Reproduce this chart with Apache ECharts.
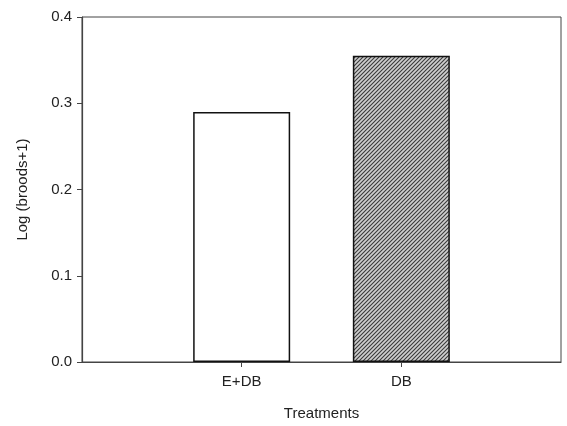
<!DOCTYPE html>
<html>
<head>
<meta charset="utf-8">
<script src="https://cdn.jsdelivr.net/npm/echarts@6/dist/echarts.min.js"></script>
<style>html,body{margin:0;padding:0;background:#fff;}#c{width:567px;height:426px;}</style>
</head>
<body>
<div id="c"></div>
<script>
var categories = ['', 'E+DB', 'DB', ''];
var values = ['-', 0.29, 0.355, '-'];
var yTicks = [0, 0.1, 0.2, 0.3, 0.4];

var pc = document.createElement('canvas');
pc.width = 4; pc.height = 4;
var g = pc.getContext('2d');
g.fillStyle = '#cfcfcf';
g.fillRect(0, 0, 4, 4);
g.strokeStyle = '#3a3a3a';
g.lineWidth = 1.1;
g.beginPath();
g.moveTo(-1, 5); g.lineTo(5, -1);
g.moveTo(-1, 1); g.lineTo(1, -1);
g.moveTo(3, 5); g.lineTo(5, 3);
g.stroke();

var chart = echarts.init(document.getElementById('c'));
var font = 'Liberation Sans, Arial, sans-serif';
chart.setOption({
  animation: false,
  grid: { left: 82, right: 6, top: 17, bottom: 63, show: true, borderColor: '#444', borderWidth: 1, backgroundColor: 'transparent' },
  xAxis: {
    type: 'category',
    data: categories,
    boundaryGap: false,
    name: 'Treatments',
    nameLocation: 'middle',
    nameGap: 44,
    nameTextStyle: { fontFamily: font, fontSize: 15, color: '#222' },
    axisLine: { lineStyle: { color: '#444', width: 1.2 } },
    axisTick: { length: 5, lineStyle: { color: '#444' }, interval: function (i, v) { return v !== ''; } },
    axisLabel: { margin: 12, fontFamily: font, fontSize: 15, color: '#222', interval: function (i, v) { return v !== ''; } },
    splitLine: { show: false }
  },
  yAxis: {
    type: 'value',
    min: yTicks[0],
    max: yTicks[yTicks.length - 1],
    interval: 0.1,
    name: 'Log (broods+1)',
    nameLocation: 'middle',
    nameRotate: 90,
    nameGap: 52,
    nameTextStyle: { fontFamily: font, fontSize: 15, color: '#222' },
    axisLine: { show: true, lineStyle: { color: '#444', width: 1.2 } },
    axisTick: { show: true, length: 5, lineStyle: { color: '#444' } },
    axisLabel: { margin: 10, fontFamily: font, fontSize: 15, color: '#222', formatter: function (v) { return v.toFixed(1); } },
    splitLine: { show: false }
  },
  series: [{
    type: 'bar',
    data: values.map(function (v, i) {
      if (i === 2) return { value: v, itemStyle: { color: { image: pc, repeat: 'repeat' } } };
      return { value: v };
    }),
    barWidth: 97,
    itemStyle: { color: '#fff', borderColor: '#111', borderWidth: 1.5 }
  }]
});
</script>
</body>
</html>
